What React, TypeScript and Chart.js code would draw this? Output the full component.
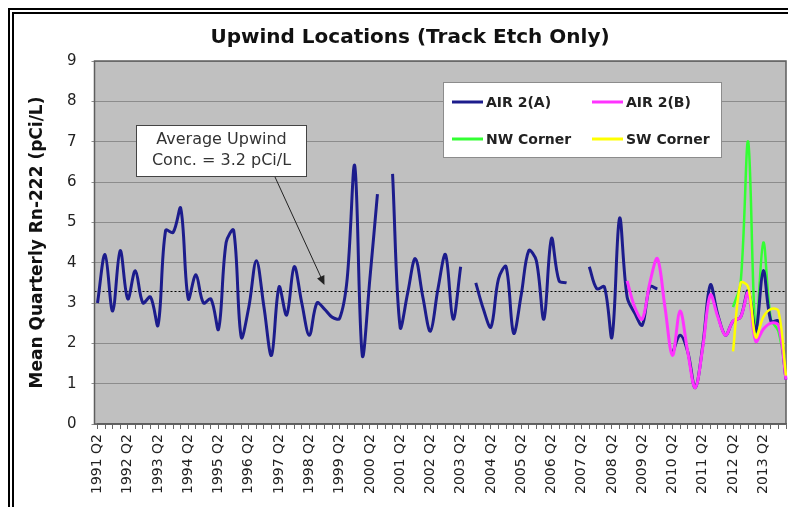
import React, { useEffect, useRef } from 'react';
import { Chart, registerables } from 'chart.js';

Chart.register(...registerables);

const FONT = "'DejaVu Sans', sans-serif";

const CHART_TITLE = 'Upwind Locations (Track Etch Only)';
const Y_AXIS_TITLE = 'Mean Quarterly Rn-222 (pCi/L)';

const FIRST_YEAR = 1991;
const LAST_YEAR = 2014;
const QUARTER_NAMES = ['Q1', 'Q2', 'Q3', 'Q4'];
const FIRST_CATEGORY = '1991 Q2';
const LAST_CATEGORY = '2014 Q1';
const LABELLED_QUARTER = 'Q2';

const ALL_QUARTERS: string[] = [];
for (let y = FIRST_YEAR; y <= LAST_YEAR; y++) {
  for (const q of QUARTER_NAMES) ALL_QUARTERS.push(`${y} ${q}`);
}
const CATEGORIES = ALL_QUARTERS.slice(
  ALL_QUARTERS.indexOf(FIRST_CATEGORY),
  ALL_QUARTERS.indexOf(LAST_CATEGORY) + 1
);

const Y_MIN = 0;
const Y_MAX = 9;
const Y_STEP = 1;

const AVERAGE_LEVEL = 3.3;
const ANNOTATION_LINES = ['Average Upwind', 'Conc. = 3.2 pCi/L'];
const ANNOTATION_TARGET = '1998 Q4';

// AIR 2(A), one value per quarter from 1991 Q2 (null = no data)
const AIR2A: (number | null)[] = [
  3.0, 4.2, 2.8, 4.3, 3.1, 3.8, 3.0, 3.15, 2.45, 4.8,
  4.75, 5.35, 3.1, 3.7, 3.0, 3.1, 2.35, 4.5, 4.8, 2.15,
  2.9, 4.05, 2.9, 1.7, 3.4, 2.7, 3.9, 3.0, 2.2, 3.0,
  2.85, 2.65, 2.62, 3.6, 6.4, 1.7, 3.6, 5.7, null, 6.2,
  2.4, 3.25, 4.1, 3.15, 2.3, 3.35, 4.2, 2.6, 3.9, null,
  3.5, 2.85, 2.4, 3.6, 3.9, 2.25, 3.2, 4.3, 4.05, 2.6,
  4.6, 3.55, 3.5, null, null, 3.9, 3.35, 3.4, 2.15, 5.1,
  3.15, 2.75, 2.45, 3.4, 3.35, null, 1.75, 2.2, 1.8, 0.9,
  1.95, 3.45, 2.7, 2.2, 2.55, 2.65, 3.3, 2.3, 3.8, 2.55,
  2.55, 1.1,
];

const AIR2B_START = '2008 Q4';
const AIR2B = [
  3.55, 2.9, 2.6, 3.5, 4.1, 2.9, 1.7, 2.8, 1.8, 0.9,
  1.9, 3.2, 2.65, 2.2, 2.55, 2.65, 3.25, 2.05, 2.35, 2.5,
  2.45, 1.1,
];

const NW_START = '2012 Q2';
const NW_CORNER = [2.9, 3.5, 7.0, 2.25, 4.5, 2.6, 2.3, 1.2];

const SW_START = '2012 Q2';
const SW_CORNER = [1.8, 3.5, 3.4, 2.15, 2.65, 2.85, 2.8, 1.2];

const pad = (start: string, values: number[]) => {
  const s = CATEGORIES.indexOf(start);
  return CATEGORIES.map((_, i) => {
    const k = i - s;
    return k >= 0 && k < values.length ? values[k] : null;
  });
};

const SERIES = [
  { label: 'AIR 2(A)', data: AIR2A, color: '#1C1C8C', width: 3, order: 2 },
  { label: 'AIR 2(B)', data: pad(AIR2B_START, AIR2B), color: '#FF33FF', width: 3, order: 1 },
  { label: 'NW Corner', data: pad(NW_START, NW_CORNER), color: '#33FF33', width: 2.5, order: 3 },
  { label: 'SW Corner', data: pad(SW_START, SW_CORNER), color: '#FFFF00', width: 2.5, order: 0 },
];

const decorPlugin = {
  id: 'decor',
  beforeDraw(chart: any) {
    const { ctx, chartArea: a } = chart;
    ctx.save();
    ctx.fillStyle = '#C0C0C0';
    ctx.fillRect(a.left - 3, a.top, a.right - a.left + 3, a.bottom - a.top);
    ctx.restore();
  },
  beforeDatasetsDraw(chart: any) {
    const { ctx, chartArea: a, scales } = chart;
    ctx.save();
    const y = scales.y.getPixelForValue(AVERAGE_LEVEL);
    ctx.strokeStyle = '#000';
    ctx.lineWidth = 1;
    ctx.setLineDash([2, 2]);
    ctx.beginPath();
    ctx.moveTo(a.left - 3, Math.round(y) + 0.5);
    ctx.lineTo(a.right, Math.round(y) + 0.5);
    ctx.stroke();
    ctx.setLineDash([]);
    ctx.strokeStyle = '#5E5E5E';
    ctx.lineWidth = 1.5;
    ctx.strokeRect(a.left - 3, a.top, a.right - a.left + 3, a.bottom - a.top);
    ctx.restore();
  },
  afterDraw(chart: any) {
    const { ctx, scales } = chart;
    ctx.save();
    // title
    ctx.fillStyle = '#111';
    ctx.font = `bold 20px ${FONT}`;
    ctx.textAlign = 'center';
    ctx.textBaseline = 'middle';
    ctx.fillText(CHART_TITLE, 410, 38);

    // legend box
    ctx.fillStyle = '#fff';
    ctx.fillRect(443.5, 82.5, 278, 75);
    ctx.strokeStyle = '#8C8C8C';
    ctx.lineWidth = 1;
    ctx.strokeRect(443.5, 82.5, 278, 75);
    const cols = [452, 592];
    const rows = [102, 139];
    ctx.font = `bold 14px ${FONT}`;
    ctx.textAlign = 'left';
    SERIES.forEach((s, i) => {
      const x = cols[i % 2];
      const y = rows[Math.floor(i / 2)];
      ctx.strokeStyle = s.color;
      ctx.lineWidth = 3;
      ctx.beginPath();
      ctx.moveTo(x, y);
      ctx.lineTo(x + 31, y);
      ctx.stroke();
      ctx.fillStyle = '#222';
      ctx.fillText(s.label, x + 34, y + 1);
    });

    // annotation arrow
    const tipX = scales.x.getPixelForValue(CATEGORIES.indexOf(ANNOTATION_TARGET));
    const tipY = scales.y.getPixelForValue(AVERAGE_LEVEL) - 6;
    const sx = 275, sy = 177;
    const ang = Math.atan2(tipY - sy, tipX - sx);
    ctx.strokeStyle = '#222';
    ctx.fillStyle = '#222';
    ctx.lineWidth = 1;
    ctx.beginPath();
    ctx.moveTo(sx, sy);
    ctx.lineTo(tipX - 6 * Math.cos(ang), tipY - 6 * Math.sin(ang));
    ctx.stroke();
    ctx.beginPath();
    ctx.moveTo(tipX, tipY);
    ctx.lineTo(tipX - 9 * Math.cos(ang) + 4 * Math.sin(ang), tipY - 9 * Math.sin(ang) - 4 * Math.cos(ang));
    ctx.lineTo(tipX - 9 * Math.cos(ang) - 4 * Math.sin(ang), tipY - 9 * Math.sin(ang) + 4 * Math.cos(ang));
    ctx.closePath();
    ctx.fill();

    // annotation box
    ctx.fillStyle = '#fff';
    ctx.fillRect(136.5, 125.5, 170, 51);
    ctx.strokeStyle = '#444';
    ctx.strokeRect(136.5, 125.5, 170, 51);
    ctx.fillStyle = '#333';
    ctx.font = `16px ${FONT}`;
    ctx.textAlign = 'center';
    ctx.fillText(ANNOTATION_LINES[0], 221.5, 140);
    ctx.fillText(ANNOTATION_LINES[1], 221.5, 161);
    ctx.restore();
  },
};

export default function App() {
  const ref = useRef<HTMLCanvasElement | null>(null);

  useEffect(() => {
    if (!ref.current) return;
    const chart = new Chart(ref.current, {
      type: 'line',
      data: {
        labels: CATEGORIES,
        datasets: SERIES.map((s) => ({
          label: s.label,
          data: s.data,
          borderColor: s.color,
          backgroundColor: s.color,
          borderWidth: s.width,
          pointRadius: 0,
          tension: 0.35,
          spanGaps: false,
          fill: false,
          order: s.order,
        })),
      },
      options: {
        animation: false,
        responsive: false,
        events: [],
        layout: { padding: { top: 61, right: 2, left: 0, bottom: 0 } },
        plugins: {
          legend: { display: false },
          tooltip: { enabled: false },
          title: { display: false },
        },
        scales: {
          x: {
            type: 'category',
            offset: false,
            afterFit: (s: any) => {
              s.height = 83;
              s.paddingLeft = 0;
              s.paddingRight = 0;
            },
            grid: {
              display: true,
              drawOnChartArea: false,
              drawTicks: true,
              tickLength: 5,
              color: '#666',
            },
            border: { display: true, color: '#5E5E5E', width: 1.5 },
            ticks: {
              autoSkip: false,
              maxRotation: 90,
              minRotation: 90,
              padding: 5,
              color: '#222',
              font: { family: FONT, size: 14 },
              callback: (_v: any, i: number) =>
                CATEGORIES[i].endsWith(LABELLED_QUARTER) ? CATEGORIES[i] : '',
            },
          },
          y: {
            min: Y_MIN,
            max: Y_MAX,
            afterFit: (s: any) => {
              s.width = 97.5;
              s.paddingTop = 0;
              s.paddingBottom = 0;
            },
            grid: { color: '#8C8C8C', lineWidth: 1, tickLength: 6, drawTicks: true },
            border: { display: false },
            ticks: {
              stepSize: Y_STEP,
              padding: 15,
              color: '#222',
              font: { family: FONT, size: 15 },
            },
            title: {
              display: true,
              text: Y_AXIS_TITLE,
              color: '#111',
              font: { family: FONT, size: 17, weight: 'bold' },
              padding: { top: 27, bottom: 0 },
            },
          },
        },
      },
      plugins: [decorPlugin],
    } as any);
    return () => chart.destroy();
  }, []);

  return (
    <div style={{ position: 'fixed', left: 0, top: 0, width: 788, height: 507, background: '#fff', overflow: 'hidden' }}>
      <canvas ref={ref} width={788} height={507} style={{ position: 'absolute', left: 0, top: 0, width: 788, height: 507 }} />
      <div style={{ position: 'absolute', left: 8, top: 8, width: 790, height: 510, borderLeft: '2px solid #000', borderTop: '2px solid #000' }} />
      <div style={{ position: 'absolute', left: 12, top: 12, width: 790, height: 510, borderLeft: '2px solid #000', borderTop: '2px solid #000' }} />
    </div>
  );
}
